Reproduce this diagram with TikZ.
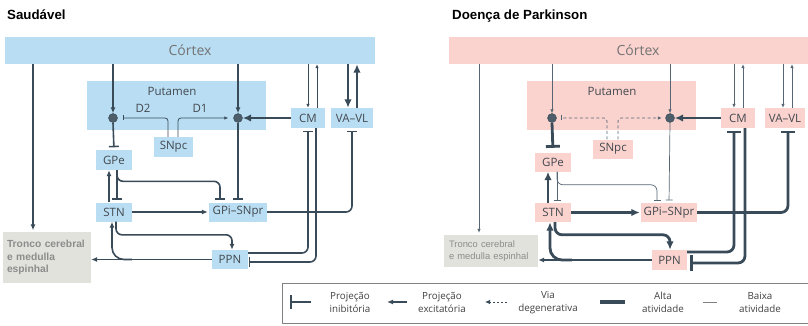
\documentclass[tikz,border=0pt]{standalone}
\usepackage{fontspec}
\setmainfont{Open Sans}
\newfontfamily\titlefont{Liberation Sans}
\usetikzlibrary{arrows.meta, calc}

\definecolor{skyfill}{HTML}{B9DEF3}
\definecolor{pinkfill}{HTML}{FAD3CF}
\definecolor{stemfill}{HTML}{E2E2DC}
\definecolor{wire}{HTML}{394B59}
\definecolor{labelgray}{HTML}{43484E}

\begin{document}
\begin{tikzpicture}[x=1pt, y=-1pt, line join=round,
    every node/.style={inner sep=0pt, text=labelgray, font=\fontsize{11.5}{13}\selectfont},
    bluebox/.style={fill=skyfill, minimum width=#1, minimum height=20pt},
    pinkbox/.style={fill=pinkfill, minimum width=#1, minimum height=20pt},
    neuron/.style={circle, fill=wire!90, draw=wire, minimum size=9pt},
    title/.style={anchor=base west, text=black, font=\titlefont\bfseries\fontsize{13.3}{15}\selectfont},
    cortexlbl/.style={text=black!55, font=\fontsize{14}{16}\selectfont},
    stemlbl/.style={fill=stemfill, align=left, text=gray!90},
    legendlbl/.style={align=center, text=black!75, font=\fontsize{9.8}{13}\selectfont},
    exc/.style={-{Latex[length=6pt, width=5pt]}},
    excbig/.style={-{Latex[length=8.5pt, width=7.5pt]}},
    excsmall/.style={-{Latex[length=4pt, width=3.5pt]}},
    inh/.style={-{Bar[width=10pt]}, shorten >=2.5pt},
    wmid/.style={draw=wire, line width=1.6pt},
    wthin/.style={draw=wire, line width=0.8pt},
    wthick/.style={draw=wire, line width=2.3pt},
    whair/.style={draw=wire!85, line width=0.7pt},
    wheavy/.style={draw=wire, line width=2.8pt}]
    \useasboundingbox (0,0) rectangle (808,326);
    \clip (0,0) rectangle (808,326);

    % healthy
    \node[title] (title1) at (7,19.5) {Saudável};
    \node[fill=skyfill, minimum width=370pt, minimum height=27pt, cortexlbl] (cortex1) at (190,50.5) {Córtex};
    \node[fill=skyfill, minimum width=179pt, minimum height=49pt] (putamen1) at (176.5,105.5) {};
    \node (putlbl1) at (172,91) {Putamen};
    \node[neuron] (d2cell1) at (113,118) {};
    \node[neuron] (d1cell1) at (238,118) {};
    \node (d2lbl) at (143,108) {D2};
    \node (d1lbl) at (200,108) {D1};
    \node[bluebox=39pt] (snpc1) at (173.5,147) {SNpc};
    \node[bluebox=36pt] (gpe1) at (114,160) {GPe};
    \node[bluebox=36pt, minimum height=19pt] (stn1) at (114,212) {STN};
    \node[bluebox=58pt, minimum height=19pt] (gpi1) at (238,212) {GPi–SNpr};
    \node[bluebox=36pt, minimum height=19pt] (ppn1) at (230,259.5) {PPN};
    \node[bluebox=34pt] (cm1) at (308,118) {CM};
    \node[bluebox=42pt] (vavl1) at (352,118) {VA–VL};
    \node[stemlbl, minimum width=88pt, minimum height=51pt, text width=80pt,
          font=\titlefont\bfseries\fontsize{10.3}{12.4}\selectfont] (tronco1) at (47,257.5) {Tronco cerebral\\e medulla\\espinhal};

    \coordinate (stemx1) at (33,0);
    \draw[wmid, exc, shorten >=1.5pt] (cortex1.south -| stemx1) -- (tronco1.north -| stemx1);
    \draw[wmid, exc] (cortex1.south -| d2cell1) -- (d2cell1.north);
    \draw[wmid, exc] (cortex1.south -| d1cell1) -- (d1cell1.north);
    \draw[wmid, inh] (d2cell1.south) -- (gpe1.north);
    \draw[wmid, inh] (d1cell1.south) -- (gpi1.north);
    \draw[wthin, rounded corners=3pt, -{Bar[width=5pt]}, shorten >=5pt] ($(snpc1.north)+(-5.5,0)$) |- (d2cell1.east);
    \draw[wthin, rounded corners=3pt, excsmall, shorten >=5pt] ($(snpc1.north)+(4.5,0)$) |- (d1cell1.west);
    \draw[wthick, excbig] (cm1.west) -- (d1cell1.east);
    \draw[wthin, excsmall] (cortex1.south -| cm1) -- (cm1.north);
    \draw[wthin, excsmall] ($(cm1.north)+(9,0)$) -- ($(cm1.north |- cortex1.south)+(9,0)$);
    \draw[wthick, excbig] ($(vavl1.north |- cortex1.south)+(-4,0)$) -- ($(vavl1.north)+(-4,0)$);
    \draw[wthick, excbig] ($(vavl1.north)+(5,0)$) -- ($(vavl1.north |- cortex1.south)+(5,0)$);
    \draw[wmid, inh, rounded corners=6pt] (gpi1.east) -| (vavl1.south);
    \draw[wmid, inh, rounded corners=6pt] ($(ppn1.east)+(0,-6.5)$) -| (cm1.south);
    \draw[wmid, inh, shorten >=0.5pt, rounded corners=6pt] ($(cm1.south)+(8,0)$) |- ($(ppn1.east)+(0,2.5)$);
    \draw[wmid, exc] ($(stn1.north)+(-5,0)$) -- ($(gpe1.south)+(-5,0)$);
    \draw[wmid, inh] ($(gpe1.south)+(3,0)$) -- ($(stn1.north)+(3,0)$);
    \draw[wmid, inh, rounded corners=6pt] ($(gpe1.south)+(3,0)$) |- ($(gpi1.north)+(-18,-21)$) -- ($(gpi1.north)+(-18,0)$);
    \draw[wmid, exc, shorten >=1pt] (stn1.east) -- (gpi1.west);
    \draw[wmid, exc, rounded corners=6pt] ($(stn1.south)+(2,0)$) |- ($(ppn1.north)+(2,-15)$) -- ($(ppn1.north)+(2,0)$);
    \draw[wmid, exc] (ppn1.west) -- (ppn1.west -| tronco1.east);
    \draw[wmid, exc, rounded corners=12pt] ($(ppn1.west)+(-80,0)$) -| ($(stn1.south)+(-2,0)$);

    % Parkinson
    \node[title] (title2) at (452,19.5) {Doença de Parkinson};
    \node[fill=pinkfill, minimum width=378pt, minimum height=27pt, cortexlbl] (cortex2) at (638,50.5) {Córtex};
    \node[fill=pinkfill, minimum width=169pt, minimum height=49pt] (putamen2) at (611.5,105.5) {};
    \node (putlbl2) at (612,91) {Putamen};
    \node[neuron] (d2cell2) at (552,118) {};
    \node[neuron] (d1cell2) at (670,118) {};
    \node[pinkbox=40pt, minimum height=19pt] (snpc2) at (613,149) {SNpc};
    \node[pinkbox=36pt, minimum height=19pt] (gpe2) at (553,162) {GPe};
    \node[pinkbox=36pt, minimum height=19pt] (stn2) at (553,212.5) {STN};
    \node[pinkbox=56pt, minimum height=19pt] (gpi2) at (669,212.5) {GPi–SNpr};
    \node[pinkbox=35pt] (ppn2) at (669.5,260) {PPN};
    \node[pinkbox=34pt] (cm2) at (738,118) {CM};
    \node[pinkbox=40pt] (vavl2) at (785,118) {VA–VL};
    \node[stemlbl, minimum width=94pt, minimum height=32pt, text width=84pt,
          font=\titlefont\fontsize{9.4}{11.5}\selectfont] (tronco2) at (491,251) {Tronco cerebral\\e medulla espinhal};

    \coordinate (stemx2) at (479,0);
    \draw[whair, excsmall, shorten >=2pt] (cortex2.south -| stemx2) -- (tronco2.north -| stemx2);
    \draw[whair, excsmall] (cortex2.south -| d2cell2) -- (d2cell2.north);
    \draw[whair, excsmall] (cortex2.south -| d1cell2) -- (d1cell2.north);
    \draw[wheavy, -{Bar[width=14pt]}, shorten >=4.5pt] (d2cell2.south) -- (gpe2.north);
    \draw[whair, dash pattern=on 3pt off 2.5pt, rounded corners=3pt, -{Bar[width=5pt]}, shorten >=4.5pt] ($(snpc2.north)+(-6,0)$) |- (d2cell2.east);
    \draw[whair, dash pattern=on 3pt off 2.5pt, rounded corners=3pt, excsmall, shorten >=3.5pt] ($(snpc2.north)+(5,0)$) |- (d1cell2.west);
    \draw[whair, -{Bar[width=7pt]}, shorten >=2.5pt] (d1cell2.south) -- (gpi2.north);
    \draw[wheavy, excbig] (cm2.west) -- (d1cell2.east);
    \draw[whair, excsmall] ($(cm2.north |- cortex2.south)+(-4,0)$) -- ($(cm2.north)+(-4,0)$);
    \draw[whair, excsmall] ($(cm2.north)+(5,0)$) -- ($(cm2.north |- cortex2.south)+(5,0)$);
    \draw[whair, excsmall] ($(vavl2.north |- cortex2.south)+(-2,0)$) -- ($(vavl2.north)+(-2,0)$);
    \draw[whair, excsmall] ($(vavl2.north)+(7,0)$) -- ($(vavl2.north |- cortex2.south)+(7,0)$);
    \draw[wheavy, -{Bar[width=14pt]}, shorten >=2.5pt, rounded corners=7pt] (gpi2.east) -| ($(vavl2.south)+(3,0)$);
    \draw[wheavy, -{Bar[width=14pt]}, shorten >=2.5pt, rounded corners=7pt] ($(ppn2.east)+(0,-8)$) -| ($(cm2.south)+(-4,0)$);
    \draw[wheavy, -{Bar[width=16pt]}, shorten >=3pt, rounded corners=7pt] ($(cm2.south)+(7,0)$) |- ($(ppn2.east)+(0,3)$);
    \draw[whair, -{Bar[width=7pt]}, shorten >=2.5pt, rounded corners=6pt] ($(gpe2.south)+(4,0)$) |- ($(gpi2.north)+(-12,-18)$) -- ($(gpi2.north)+(-12,0)$);
    \draw[wheavy, excbig] ($(stn2.north)+(-5,0)$) -- ($(gpe2.south)+(-5,0)$);
    \draw[whair, -{Bar[width=7pt]}, shorten >=2.5pt] ($(gpe2.south)+(4,0)$) -- ($(stn2.north)+(4,0)$);
    \draw[wheavy, excbig, shorten >=1pt] (stn2.east) -- (gpi2.west);
    \draw[wheavy, excbig, rounded corners=7pt] ($(stn2.south)+(2,0)$) |- ($(ppn2.north)+(0.5,-15)$) -- ($(ppn2.north)+(0.5,0)$);
    \draw[wmid, exc] (ppn2.west) -- (ppn2.west -| tronco2.east);
    \draw[wheavy, excbig, rounded corners=12pt] ($(ppn2.west)+(-80,0)$) -| ($(stn2.south)+(-3,0)$);

    % legend
    \node[draw=gray, line width=0.8pt, minimum width=530pt, minimum height=40pt] (legend) at (547,303) {};
    \draw[draw=wire, line width=2pt, -{Bar[width=14pt]}] (311,302) -- (290,302);
    \node[legendlbl] (inhlbl) at (350,302.5) {Projeção\\inibitória};
    \draw[wmid, exc] (407,302) -- (387,302);
    \node[legendlbl] (exclbl) at (442,302.5) {Projeção\\excitatória};
    \draw[wthin, dash pattern=on 2.5pt off 1.5pt, -{Latex[length=5pt, width=4.5pt]}] (507,302) -- (485,302);
    \node[legendlbl] (deglbl) at (548,302.5) {Via\\degenerativa};
    \draw[draw=wire, line width=4pt] (600,302) -- (625,302);
    \node[legendlbl] (highlbl) at (663,302.5) {Alta\\atividade};
    \draw[draw=gray, line width=0.6pt] (703,302) -- (717,302);
    \node[legendlbl] (lowlbl) at (760,302.5) {Baixa\\atividade};
\end{tikzpicture}
\end{document}
